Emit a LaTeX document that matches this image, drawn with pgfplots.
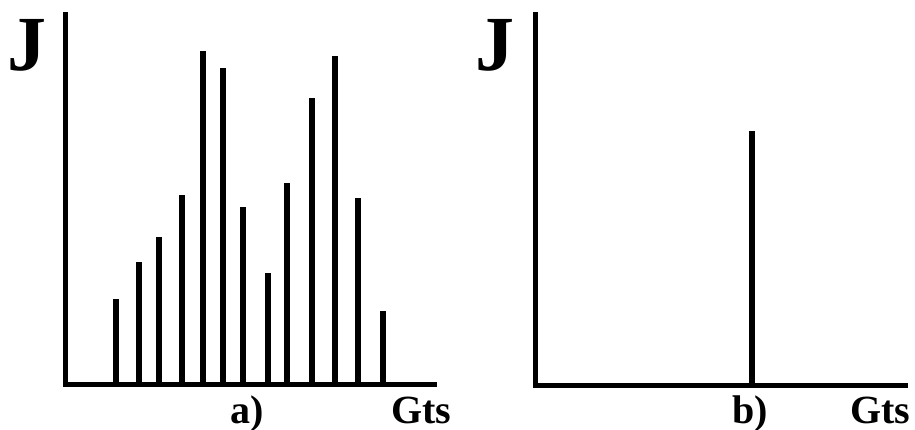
\documentclass[border=0pt]{standalone}
\usepackage{pgfplots}
\pgfplotsset{compat=1.18}
\usepackage{fontspec}
\setmainfont{Liberation Serif}
\begin{document}
\begin{tikzpicture}[x=1pt,y=1pt]
\path[use as bounding box] (0,0) rectangle (915,-430);
\pgfplotsset{
  myax/.style={
    axis lines=left,
    axis line style={line width=5pt,-,line cap=rect,black},
    xtick=\empty, ytick=\empty,
    scale only axis, clip=false,
    anchor=south west,
  }
}
\begin{axis}[myax, at={(65,-384)}, xmin=65, xmax=434, ymin=0, ymax=369,
  width=369pt, height=369pt]
\addplot[ycomb, line width=6pt, black, mark=none] coordinates {
(116,85) (139,122) (159,147) (182,189) (203,333) (223,316) (243,177)
(268,111) (287,201) (312,286) (335,328) (358,186) (383,73)};
\end{axis}
\begin{axis}[myax, at={(535,-385)}, xmin=535, xmax=905, ymin=0, ymax=370,
  width=370pt, height=370pt]
\addplot[ycomb, line width=6pt, black, mark=none] coordinates {(752,254)};
\end{axis}
\node[anchor=base, inner sep=0pt] at (27,-71) {\fontsize{78}{78}\selectfont\bfseries J};
\node[anchor=base, inner sep=0pt] at (495,-71) {\fontsize{78}{78}\selectfont\bfseries J};
\node[anchor=base, inner sep=0pt] at (247,-423) {\fontsize{40}{40}\selectfont\bfseries a)};
\node[anchor=base, inner sep=0pt] at (421,-423) {\fontsize{40}{40}\selectfont\bfseries Gts};
\node[anchor=base, inner sep=0pt] at (750,-423) {\fontsize{40}{40}\selectfont\bfseries b)};
\node[anchor=base, inner sep=0pt] at (880,-423) {\fontsize{40}{40}\selectfont\bfseries Gts};
\end{tikzpicture}
\end{document}
